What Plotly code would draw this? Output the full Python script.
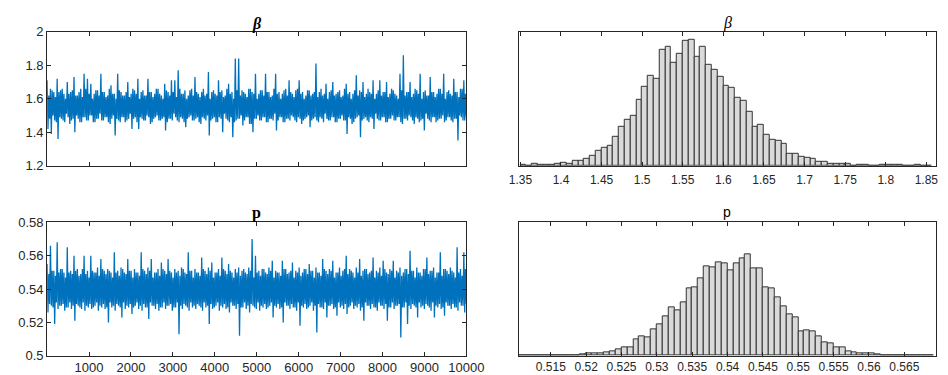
import numpy as np
import plotly.graph_objects as go

# ---------------- data ----------------
# sampled chain: pairs of (upper excursion, lower excursion) every ~80 iterations
beta_chain = [
    1.71, 1.42, 1.66, 1.39, 1.64, 1.47, 1.72, 1.36, 1.65, 1.48, 1.63, 1.46, 1.70, 1.49, 1.64, 1.47,
    1.73, 1.40, 1.62, 1.48, 1.66, 1.46, 1.75, 1.49, 1.72, 1.47, 1.69, 1.50, 1.63, 1.46, 1.65, 1.48,
    1.75, 1.47, 1.64, 1.49, 1.62, 1.46, 1.68, 1.48, 1.63, 1.38, 1.75, 1.47, 1.64, 1.49, 1.62, 1.46,
    1.70, 1.48, 1.63, 1.42, 1.65, 1.49, 1.72, 1.42, 1.64, 1.48, 1.62, 1.47, 1.72, 1.49, 1.64, 1.46,
    1.63, 1.49, 1.66, 1.47, 1.62, 1.48, 1.69, 1.41, 1.64, 1.48, 1.71, 1.47, 1.71, 1.49, 1.77, 1.46,
    1.63, 1.48, 1.65, 1.43, 1.62, 1.49, 1.66, 1.47, 1.73, 1.48, 1.63, 1.46, 1.64, 1.49, 1.62, 1.47,
    1.76, 1.38, 1.64, 1.48, 1.63, 1.46, 1.71, 1.49, 1.65, 1.40, 1.62, 1.48, 1.69, 1.46, 1.64, 1.37,
    1.84, 1.47, 1.84, 1.48, 1.65, 1.44, 1.63, 1.49, 1.66, 1.45, 1.64, 1.40, 1.75, 1.48, 1.63, 1.47,
    1.65, 1.49, 1.75, 1.46, 1.64, 1.48, 1.62, 1.47, 1.75, 1.41, 1.64, 1.49, 1.63, 1.46, 1.66, 1.48,
    1.71, 1.47, 1.63, 1.49, 1.65, 1.46, 1.71, 1.48, 1.64, 1.47, 1.62, 1.49, 1.65, 1.43, 1.63, 1.48,
    1.81, 1.47, 1.64, 1.49, 1.62, 1.46, 1.69, 1.48, 1.64, 1.47, 1.70, 1.49, 1.63, 1.46, 1.65, 1.48,
    1.62, 1.47, 1.69, 1.39, 1.64, 1.48, 1.63, 1.46, 1.74, 1.49, 1.65, 1.37, 1.70, 1.48, 1.63, 1.47,
    1.64, 1.49, 1.71, 1.42, 1.63, 1.48, 1.71, 1.47, 1.64, 1.49, 1.70, 1.46, 1.63, 1.48, 1.65, 1.47,
    1.62, 1.49, 1.75, 1.46, 1.86, 1.48, 1.64, 1.47, 1.70, 1.49, 1.63, 1.45, 1.65, 1.48, 1.75, 1.47,
    1.64, 1.41, 1.62, 1.48, 1.73, 1.46, 1.64, 1.49, 1.63, 1.47, 1.66, 1.48, 1.75, 1.46, 1.64, 1.49,
    1.63, 1.47, 1.72, 1.48, 1.64, 1.35, 1.66, 1.49, 1.71, 1.47,
]
# core band samples that fall between the excursions above
beta_core = [
    1.62, 1.48, 1.65, 1.50, 1.61, 1.46, 1.64, 1.49, 1.66, 1.47, 1.60, 1.51, 1.63, 1.45, 1.65, 1.48,
    1.62, 1.50, 1.64, 1.46, 1.61, 1.49, 1.66, 1.47, 1.63, 1.50, 1.60, 1.46, 1.65, 1.48, 1.62, 1.51,
    1.64, 1.47, 1.61, 1.49, 1.66, 1.45, 1.63, 1.50, 1.60, 1.48, 1.65, 1.46, 1.62, 1.49, 1.64, 1.47,
    1.61, 1.51, 1.66, 1.48, 1.63, 1.46, 1.60, 1.49, 1.65, 1.47, 1.62, 1.50, 1.64, 1.45, 1.61, 1.48,
    1.66, 1.50, 1.63, 1.47, 1.60, 1.49, 1.65, 1.46, 1.62, 1.48, 1.64, 1.51, 1.61, 1.47, 1.66, 1.49,
    1.63, 1.46, 1.60, 1.48, 1.65, 1.50, 1.62, 1.47, 1.64, 1.49, 1.61, 1.45, 1.66, 1.48, 1.63, 1.50,
    1.60, 1.47, 1.65, 1.49, 1.62, 1.46, 1.64, 1.48, 1.61, 1.51, 1.66, 1.47, 1.63, 1.49, 1.60, 1.46,
    1.65, 1.48, 1.62, 1.50, 1.64, 1.47, 1.61, 1.49, 1.66, 1.45, 1.63, 1.48, 1.60, 1.50, 1.65, 1.47,
    1.62, 1.49, 1.64, 1.46, 1.61, 1.48, 1.66, 1.51, 1.63, 1.47, 1.60, 1.49, 1.65, 1.46, 1.62, 1.48,
    1.64, 1.50, 1.61, 1.47, 1.66, 1.49, 1.63, 1.45, 1.60, 1.48, 1.65, 1.50, 1.62, 1.47, 1.64, 1.49,
    1.61, 1.46, 1.66, 1.48, 1.63, 1.51, 1.60, 1.47, 1.65, 1.49, 1.62, 1.46, 1.64, 1.48, 1.61, 1.50,
    1.66, 1.47, 1.63, 1.49, 1.60, 1.45, 1.65, 1.48, 1.62, 1.50, 1.64, 1.47, 1.61, 1.49, 1.66, 1.46,
    1.63, 1.48, 1.60, 1.51, 1.65, 1.47, 1.62, 1.49, 1.64, 1.46, 1.61, 1.48, 1.66, 1.50, 1.63, 1.47,
    1.60, 1.49, 1.65, 1.45, 1.62, 1.48, 1.64, 1.50, 1.61, 1.47, 1.66, 1.49, 1.63, 1.46, 1.60, 1.48,
    1.65, 1.51, 1.62, 1.47, 1.64, 1.49, 1.61, 1.46, 1.66, 1.48, 1.63, 1.50, 1.60, 1.47, 1.65, 1.49,
    1.62, 1.46, 1.64, 1.48, 1.61, 1.50, 1.66, 1.47, 1.63, 1.49,
]

p_chain = [
    0.555, 0.526, 0.566, 0.530, 0.551, 0.519, 0.568, 0.528, 0.552, 0.530, 0.550, 0.527, 0.565, 0.529,
    0.551, 0.528, 0.560, 0.521, 0.552, 0.530, 0.549, 0.528, 0.560, 0.527, 0.551, 0.529, 0.560, 0.528,
    0.550, 0.530, 0.553, 0.527, 0.558, 0.529, 0.551, 0.528, 0.552, 0.520, 0.550, 0.529, 0.562, 0.527,
    0.551, 0.530, 0.553, 0.523, 0.550, 0.528, 0.558, 0.529, 0.551, 0.525, 0.552, 0.530, 0.550, 0.528,
    0.562, 0.527, 0.551, 0.529, 0.553, 0.522, 0.558, 0.530, 0.550, 0.528, 0.552, 0.527, 0.556, 0.529,
    0.551, 0.528, 0.558, 0.530, 0.550, 0.527, 0.552, 0.529, 0.551, 0.513, 0.553, 0.528, 0.550, 0.530,
    0.562, 0.527, 0.551, 0.529, 0.552, 0.528, 0.550, 0.530, 0.559, 0.527, 0.551, 0.529, 0.553, 0.519,
    0.556, 0.528, 0.550, 0.530, 0.552, 0.527, 0.559, 0.529, 0.551, 0.528, 0.555, 0.526, 0.550, 0.530,
    0.552, 0.528, 0.553, 0.512, 0.551, 0.529, 0.550, 0.528, 0.553, 0.526, 0.570, 0.530, 0.560, 0.528,
    0.551, 0.527, 0.552, 0.529, 0.550, 0.528, 0.553, 0.530, 0.557, 0.523, 0.551, 0.529, 0.550, 0.528,
    0.557, 0.520, 0.552, 0.530, 0.550, 0.528, 0.556, 0.529, 0.551, 0.527, 0.553, 0.518, 0.550, 0.529,
    0.552, 0.528, 0.555, 0.530, 0.551, 0.527, 0.553, 0.514, 0.550, 0.529, 0.558, 0.528, 0.551, 0.523,
    0.552, 0.530, 0.557, 0.528, 0.550, 0.524, 0.553, 0.529, 0.551, 0.528, 0.560, 0.525, 0.552, 0.530,
    0.550, 0.528, 0.553, 0.529, 0.558, 0.527, 0.551, 0.521, 0.552, 0.530, 0.550, 0.528, 0.559, 0.529,
    0.551, 0.527, 0.553, 0.530, 0.557, 0.528, 0.550, 0.521, 0.552, 0.529, 0.557, 0.528, 0.551, 0.530,
    0.553, 0.511, 0.550, 0.529, 0.552, 0.519, 0.563, 0.528, 0.551, 0.530, 0.553, 0.523, 0.550, 0.529,
    0.552, 0.528, 0.559, 0.530, 0.551, 0.527, 0.553, 0.523, 0.550, 0.529, 0.562, 0.528, 0.552, 0.524,
    0.551, 0.530, 0.553, 0.528, 0.550, 0.529, 0.565, 0.527, 0.552, 0.530, 0.562, 0.526,
]
p_core = [
    0.549, 0.531, 0.551, 0.529, 0.548, 0.532, 0.550, 0.530, 0.552, 0.531, 0.547, 0.529, 0.550, 0.532,
    0.549, 0.530, 0.551, 0.531, 0.548, 0.529, 0.552, 0.532, 0.549, 0.530, 0.547, 0.531, 0.551, 0.529,
    0.550, 0.532, 0.548, 0.530, 0.552, 0.531, 0.549, 0.529, 0.551, 0.532, 0.547, 0.530, 0.550, 0.531,
    0.548, 0.529, 0.552, 0.532, 0.549, 0.530, 0.551, 0.531, 0.547, 0.529, 0.550, 0.532, 0.548, 0.530,
    0.552, 0.531, 0.549, 0.529, 0.551, 0.532, 0.547, 0.530, 0.550, 0.531, 0.548, 0.529, 0.552, 0.532,
    0.549, 0.530, 0.551, 0.531, 0.547, 0.529, 0.550, 0.532, 0.548, 0.530, 0.552, 0.531, 0.549, 0.529,
    0.551, 0.532, 0.547, 0.530, 0.550, 0.531, 0.548, 0.529, 0.552, 0.532, 0.549, 0.530, 0.551, 0.531,
    0.547, 0.529, 0.550, 0.532, 0.548, 0.530, 0.552, 0.531, 0.549, 0.529, 0.551, 0.532, 0.547, 0.530,
    0.550, 0.531, 0.548, 0.529, 0.552, 0.532, 0.549, 0.530, 0.551, 0.531, 0.547, 0.529, 0.550, 0.532,
    0.548, 0.530, 0.552, 0.531, 0.549, 0.529, 0.551, 0.532, 0.547, 0.530, 0.550, 0.531, 0.548, 0.529,
    0.552, 0.532, 0.549, 0.530, 0.551, 0.531, 0.547, 0.529, 0.550, 0.532, 0.548, 0.530, 0.552, 0.531,
    0.549, 0.529, 0.551, 0.532, 0.547, 0.530, 0.550, 0.531, 0.548, 0.529, 0.552, 0.532, 0.549, 0.530,
    0.551, 0.531, 0.547, 0.529, 0.550, 0.532, 0.548, 0.530, 0.552, 0.531, 0.549, 0.529, 0.551, 0.532,
    0.547, 0.530, 0.550, 0.531, 0.548, 0.529, 0.552, 0.532, 0.549, 0.530, 0.551, 0.531, 0.547, 0.529,
    0.550, 0.532, 0.548, 0.530, 0.552, 0.531, 0.549, 0.529, 0.551, 0.532, 0.547, 0.530, 0.550, 0.531,
    0.548, 0.529, 0.552, 0.532, 0.549, 0.530, 0.551, 0.531, 0.547, 0.529, 0.550, 0.532, 0.548, 0.530,
    0.552, 0.531, 0.549, 0.529, 0.551, 0.532, 0.547, 0.530, 0.550, 0.531, 0.548, 0.529, 0.552, 0.532,
    0.549, 0.530, 0.551, 0.531, 0.547, 0.529, 0.550, 0.532, 0.548, 0.530, 0.552, 0.531,
]

# histogram bins (left edge of first bin, bin width) and counts
beta_bin_start = 1.35
beta_bin_width = 0.05 / 7
beta_counts = [
    3, 1, 7, 3, 4, 4, 8, 12, 8, 20, 20, 28, 43, 64, 75, 85, 121, 164, 192, 209,
    276, 328, 376, 364, 485, 497, 432, 469, 524, 528, 456, 496, 423, 403, 371, 333,
    325, 284, 272, 227, 164, 173, 129, 108, 103, 91, 51, 51, 36, 33, 27, 15, 15, 9,
    9, 7, 8, 1, 4, 3, 0, 1, 3, 3, 3, 3, 1, 0, 3, 1, 1,
]

p_bin_start = 0.51
p_bin_width = 0.005 / 6
p_counts = [
    1, 1, 3, 3, 1, 0, 1, 1, 1, 1, 3, 6, 11, 13, 15, 16, 21, 33, 41, 41,
    85, 101, 93, 134, 163, 204, 251, 234, 276, 346, 354, 400, 462, 454, 482, 477,
    441, 474, 503, 519, 449, 452, 354, 348, 299, 253, 212, 196, 127, 131, 126, 101,
    69, 62, 44, 44, 21, 20, 13, 11, 11, 6, 3, 3, 1, 1, 1, 1, 0, 1, 1,
]

trace_xticks = [1000, 2000, 3000, 4000, 5000, 6000, 7000, 8000, 9000, 10000]
beta_yticks = [1.2, 1.4, 1.6, 1.8, 2.0]
beta_yticklabels = ["1.2", "1.4", "1.6", "1.8", "2"]
p_yticks = [0.5, 0.52, 0.54, 0.56, 0.58]
p_yticklabels = ["0.5", "0.52", "0.54", "0.56", "0.58"]
beta_hist_ticks = [1.35, 1.4, 1.45, 1.5, 1.55, 1.6, 1.65, 1.7, 1.75, 1.8, 1.85]
beta_hist_ticklabels = ["1.35", "1.4", "1.45", "1.5", "1.55", "1.6", "1.65", "1.7", "1.75", "1.8", "1.85"]
p_hist_ticks = [0.515, 0.52, 0.525, 0.53, 0.535, 0.54, 0.545, 0.55, 0.555, 0.56, 0.565]
p_hist_ticklabels = ["0.515", "0.52", "0.525", "0.53", "0.535", "0.54", "0.545", "0.55", "0.555", "0.56", "0.565"]

# ---------------- figure ----------------
W, H = 948, 375
AX = "#262626"
BLUE = "#0072BD"

def px_x(a, b):
    return [a / W, b / W]

def px_y(top, bottom):
    return [(H - bottom) / H, (H - top) / H]

def interleave(a, b):
    out = []
    for i in range(0, len(a), 2):
        out.extend(a[i:i + 2])
        out.extend(b[i:i + 2])
    return out

beta_series = interleave(beta_chain, beta_core)
p_series = interleave(p_chain, p_core)

fig = go.Figure()

it_beta = np.linspace(1, 10000, len(beta_series))
it_p = np.linspace(1, 10000, len(p_series))

fig.add_trace(go.Scatter(x=it_beta, y=beta_series, mode="lines",
                         line=dict(color=BLUE, width=1.3, simplify=False), xaxis="x", yaxis="y",
                         showlegend=False, hoverinfo="skip"))
fig.add_trace(go.Scatter(x=it_p, y=p_series, mode="lines",
                         line=dict(color=BLUE, width=1.3, simplify=False), xaxis="x3", yaxis="y3",
                         showlegend=False, hoverinfo="skip"))

beta_centers = [beta_bin_start + (i + 0.5) * beta_bin_width for i in range(len(beta_counts))]
p_centers = [p_bin_start + (i + 0.5) * p_bin_width for i in range(len(p_counts))]

bar_style = dict(color="#DADADA", line=dict(color="#333333", width=1))
fig.add_trace(go.Bar(x=beta_centers, y=beta_counts, width=beta_bin_width,
                     marker=bar_style, xaxis="x2", yaxis="y2", showlegend=False,
                     hoverinfo="skip"))
fig.add_trace(go.Bar(x=p_centers, y=p_counts, width=p_bin_width,
                     marker=bar_style, xaxis="x4", yaxis="y4", showlegend=False,
                     hoverinfo="skip"))

TOP_ROW = (17.5, 157)
BOT_ROW = (216, 355)
LEFT = (30, 462)
RIGHT = (516, 946)

common = dict(showline=True, linecolor=AX, linewidth=1, mirror="ticks",
              ticks="inside", ticklen=4, tickcolor=AX, showgrid=False, zeroline=False,
              tickfont=dict(family="Liberation Sans, Arial, sans-serif", size=13, color=AX))
common_r = dict(common)
common_r["tickfont"] = dict(family="Liberation Sans, Arial, sans-serif", size=12, color=AX)

fig.update_layout(
    width=W, height=H,
    margin=dict(l=0, r=0, t=0, b=0),
    paper_bgcolor="white", plot_bgcolor="white",
    bargap=0,
    xaxis=dict(domain=px_x(*LEFT), range=[1, 10000], tickvals=trace_xticks,
               showticklabels=False, anchor="y", **common),
    yaxis=dict(domain=px_y(*TOP_ROW), range=[1.2, 2.0], tickvals=beta_yticks,
               ticktext=beta_yticklabels, anchor="x", **common),
    xaxis3=dict(domain=px_x(*LEFT), range=[1, 10000], tickvals=trace_xticks,
                ticktext=[str(v) for v in trace_xticks], anchor="y3", **common),
    yaxis3=dict(domain=px_y(*BOT_ROW), range=[0.5, 0.58], tickvals=p_yticks,
                ticktext=p_yticklabels, anchor="x3", **common),
    xaxis2=dict(domain=px_x(*RIGHT), range=[1.348, 1.862], tickvals=beta_hist_ticks,
                ticktext=beta_hist_ticklabels, anchor="y2",
                ticklabelstandoff=3, **common_r),
    yaxis2=dict(domain=px_y(*TOP_ROW), range=[0, 560], showticklabels=False,
                showline=True, linecolor=AX, linewidth=1, mirror=True, ticks="",
                showgrid=False, zeroline=False, anchor="x2"),
    xaxis4=dict(domain=px_x(*RIGHT), range=[0.51047, 0.56949], tickvals=p_hist_ticks,
                ticktext=p_hist_ticklabels, anchor="y4", **common_r),
    yaxis4=dict(domain=px_y(*BOT_ROW), range=[0, 686], showticklabels=False,
                showline=True, linecolor=AX, linewidth=1, mirror=True, ticks="",
                showgrid=False, zeroline=False, anchor="x4"),
)

def title(text, cx, cy, family, size):
    fig.add_annotation(text=text, x=cx / W, y=(H - cy) / H, xref="paper", yref="paper",
                       showarrow=False, xanchor="center", yanchor="middle",
                       font=dict(family=family, size=size, color="black"))

title("<b><i>β</i></b>", 246, 9, "Liberation Serif, Times New Roman, serif", 16)
title("<i>β</i>", 731, 8, "Liberation Serif, Times New Roman, serif", 16)
title("<b>p</b>", 246, 206, "Liberation Serif, Times New Roman, serif", 16)
title("p", 731, 205, "Liberation Sans, Arial, sans-serif", 14)

fig.write_html("out.html")
